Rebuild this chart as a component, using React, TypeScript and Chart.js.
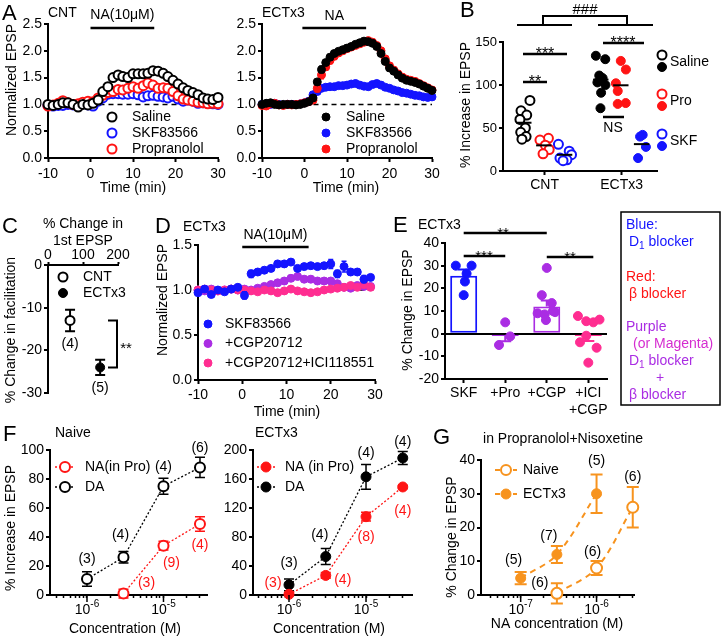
import React, { useEffect, useRef } from 'react';
import { Chart, registerables } from 'chart.js';

const FONT = '"Liberation Sans", Arial, Helvetica, sans-serif';
const W = 723;
const H = 639;

const BLACK = '#000000';
const RED = '#ff1414';
const BLUE = '#1414ff';
const PURPLE = '#aa2de3';
const PINK = '#ff2d91';
const ORANGE = '#f7931e';
const MAGENTA = '#d52cd0';

// ================= DATA =================
// Panel A
const A_LEGEND = ['Saline', 'SKF83566', 'Propranolol'];
const A_X_TICKS = [-10, 0, 10, 20, 30];
const A_Y_TICKS = [0, 0.5, 1, 1.5, 2, 2.5];
const A_CNT_TIME = [-10, -8.8, -7.6, -6.5, -5.3, -4.1, -2.9, -1.8, -0.6, 0.6, 1.8, 2.9, 4.1, 5.3, 6.5, 7.6, 8.8, 10, 11.2, 12.4, 13.5, 14.7, 15.9, 17.1, 18.2, 19.4, 20.6, 21.8, 22.9, 24.1, 25.3, 26.5, 27.6, 28.8, 30];
const A_CNT_SALINE = [1.00, 0.98, 1.00, 1.03, 1.03, 1.00, 0.95, 1.00, 0.99, 1.02, 1.08, 1.24, 1.33, 1.50, 1.55, 1.52, 1.50, 1.57, 1.57, 1.57, 1.58, 1.63, 1.62, 1.58, 1.52, 1.45, 1.38, 1.31, 1.26, 1.22, 1.18, 1.12, 1.10, 1.09, 1.13];
const A_CNT_SKF = [0.98, 0.97, 0.98, 0.98, 1.00, 0.99, 1.00, 1.02, 0.99, 0.97, 1.06, 1.12, 1.19, 1.20, 1.20, 1.19, 1.19, 1.20, 1.18, 1.14, 1.16, 1.17, 1.15, 1.14, 1.12, 1.15, 1.10, 1.06, 1.08, 1.06, 1.02, 1.03, 1.02, 1.01, 1.00];
const A_CNT_PRO = [0.97, 0.99, 1.02, 1.07, 1.03, 1.00, 1.01, 1.04, 1.06, 1.05, 1.12, 1.17, 1.22, 1.24, 1.28, 1.27, 1.30, 1.33, 1.30, 1.35, 1.40, 1.36, 1.30, 1.31, 1.30, 1.24, 1.16, 1.10, 1.08, 1.06, 1.04, 1.03, 1.01, 1.02, 1.01];
const A_ECT_TIME = [-10, -9, -8, -7, -6, -5, -4, -3, -2, -1, 0, 1, 2, 3, 4, 5, 6, 7, 8, 9, 10, 11, 12, 13, 14, 15, 16, 17, 18, 19, 20, 21, 22, 23, 24, 25, 26, 27, 28, 29, 30];
const A_ECT_SALINE = [1.00, 1.02, 1.03, 1.00, 0.99, 1.00, 1.00, 1.00, 0.99, 1.00, 1.02, 1.05, 1.12, 1.42, 1.65, 1.78, 1.88, 1.95, 1.99, 2.02, 2.05, 2.08, 2.12, 2.15, 2.18, 2.17, 2.14, 2.08, 1.95, 1.80, 1.68, 1.62, 1.55, 1.49, 1.45, 1.43, 1.41, 1.38, 1.34, 1.30, 1.26];
const A_ECT_SALINE_ERR = [0.02, 0.03, 0.02, 0.02, 0.02, 0.02, 0.02, 0.02, 0.02, 0.02, 0.02, 0.03, 0.04, 0.05, 0.06, 0.05, 0.05, 0.05, 0.05, 0.05, 0.05, 0.05, 0.05, 0.05, 0.05, 0.05, 0.05, 0.05, 0.05, 0.05, 0.05, 0.04, 0.04, 0.04, 0.04, 0.04, 0.04, 0.04, 0.04, 0.04, 0.05];
const A_ECT_SKF = [1.00, 1.01, 1.00, 1.02, 1.00, 0.99, 1.00, 1.00, 1.00, 1.01, 1.03, 1.06, 1.18, 1.24, 1.30, 1.32, 1.33, 1.33, 1.35, 1.35, 1.36, 1.38, 1.39, 1.36, 1.34, 1.33, 1.37, 1.39, 1.36, 1.32, 1.30, 1.27, 1.25, 1.22, 1.21, 1.19, 1.17, 1.16, 1.14, 1.13, 1.14];
const A_ECT_SKF_ERR = [0.02, 0.02, 0.02, 0.02, 0.02, 0.02, 0.02, 0.02, 0.02, 0.02, 0.02, 0.03, 0.04, 0.04, 0.04, 0.04, 0.04, 0.04, 0.04, 0.04, 0.04, 0.04, 0.04, 0.04, 0.04, 0.04, 0.05, 0.05, 0.04, 0.04, 0.04, 0.04, 0.04, 0.04, 0.04, 0.03, 0.03, 0.03, 0.03, 0.03, 0.03];
const A_ECT_PRO = [0.98, 0.97, 1.01, 1.02, 0.99, 0.98, 1.00, 0.99, 1.00, 1.01, 1.03, 1.05, 1.08, 1.30, 1.55, 1.70, 1.82, 1.90, 1.96, 2.00, 2.04, 2.07, 2.10, 2.13, 2.16, 2.19, 2.16, 2.10, 2.00, 1.85, 1.72, 1.64, 1.57, 1.51, 1.47, 1.45, 1.43, 1.39, 1.35, 1.31, 1.27];
const A_ECT_PRO_ERR = [0.03, 0.03, 0.03, 0.03, 0.03, 0.03, 0.03, 0.03, 0.03, 0.03, 0.03, 0.04, 0.05, 0.07, 0.07, 0.06, 0.06, 0.06, 0.05, 0.05, 0.05, 0.05, 0.05, 0.05, 0.05, 0.05, 0.05, 0.05, 0.05, 0.05, 0.05, 0.05, 0.05, 0.05, 0.04, 0.04, 0.04, 0.04, 0.04, 0.04, 0.05];

// Panel B
const B_GROUPS = ['CNT', 'ECTx3'];
const B_CONDITIONS = ['Saline', 'Pro', 'SKF'];
const B_Y_TICKS = [0, 50, 100, 150];
const B_CNT_SALINE = [82, 70, 65, 60, 50, 45, 40, 37];
const B_CNT_PRO = [38, 36, 30, 25, 20];
const B_CNT_SKF = [31, 23, 19, 15, 13, 12];
const B_ECT_SALINE = [134, 130, 111, 108, 103, 100, 91, 73];
const B_ECT_PRO = [128, 118, 102, 93, 79, 78];
const B_ECT_SKF = [42, 40, 28, 15];

// Panel C
const C_GROUPS = ['CNT', 'ECTx3'];
const C_FIRST_EPSP = [63, 149];
const C_FACILITATION = [-13, -24];
const C_FACILITATION_ERR = [2.5, 1.8];
const C_N = [4, 5];

// Panel D
const D_LEGEND = ['SKF83566', '+CGP20712', '+CGP20712+ICI118551'];
const D_Y_TICKS = [0, 0.5, 1, 1.5];
const D_TIME = [-10, -8.5, -7, -5.5, -4, -2.5, -1, 0.5, 2, 3.5, 5, 6.5, 8, 9.5, 11, 12.5, 14, 15.5, 17, 18.5, 20, 21.5, 23, 24.5, 26, 27.5, 29];
const D_SKF = [0.97, 1.01, 0.95, 1.00, 0.98, 1.01, 1.03, 0.94, 1.18, 1.20, 1.22, 1.24, 1.29, 1.29, 1.31, 1.24, 1.26, 1.27, 1.26, 1.27, 1.29, 1.18, 1.26, 1.20, 1.20, 1.12, 1.14];
const D_SKF_ERR = [0.02, 0.02, 0.03, 0.02, 0.02, 0.02, 0.02, 0.04, 0.04, 0.03, 0.03, 0.03, 0.03, 0.03, 0.02, 0.03, 0.03, 0.03, 0.03, 0.03, 0.05, 0.04, 0.06, 0.03, 0.03, 0.04, 0.03];
const D_CGP = [1.00, 0.99, 1.01, 0.99, 1.00, 1.01, 1.00, 1.01, 1.00, 1.02, 1.04, 1.06, 1.08, 1.10, 1.13, 1.15, 1.12, 1.12, 1.10, 1.10, 1.10, 1.07, 1.03, 1.02, 1.05, 1.04, 1.04];
const D_CGP_ERR = [0.02, 0.02, 0.02, 0.02, 0.02, 0.02, 0.02, 0.02, 0.02, 0.02, 0.02, 0.03, 0.03, 0.03, 0.03, 0.03, 0.03, 0.03, 0.03, 0.03, 0.03, 0.03, 0.02, 0.02, 0.02, 0.02, 0.02];
const D_ICI = [1.00, 1.01, 1.00, 0.99, 1.00, 1.01, 1.00, 1.00, 0.99, 0.98, 1.00, 0.99, 0.97, 0.99, 1.01, 0.99, 0.98, 0.97, 0.98, 1.00, 1.01, 1.02, 1.03, 1.05, 1.03, 1.06, 1.03];
const D_ICI_ERR = [0.02, 0.02, 0.02, 0.02, 0.02, 0.02, 0.02, 0.02, 0.02, 0.02, 0.02, 0.02, 0.02, 0.02, 0.02, 0.02, 0.02, 0.02, 0.02, 0.02, 0.02, 0.02, 0.02, 0.02, 0.02, 0.02, 0.02];

// Panel E
const E_LABELS: any[] = ['SKF', '+Pro', '+CGP', ['+ICI', '+CGP']];
const E_Y_TICKS = [-20, -10, 0, 10, 20, 30, 40];
const E_MEAN = [25.5, -1, 12, -1];
const E_SEM = [2.8, 2.4, 2.6, 2.2];
const E_SKF = [30, 30, 26.5, 23, 17];
const E_PRO = [5, -1.2, -5];
const E_CGP = [29, 17, 13.5, 9, 8.5, 9.5, 6, 10];
const E_ICI = [7.8, 5.5, 5, 6.2, -0.9, -3.8, -6.2, -12.8];

// Panel F
const F_CONC = [1e-6, 3e-6, 1e-5, 3e-5];
const F_NAIVE_NA_CONC = [3e-6, 1e-5, 3e-5];
const F_NAIVE_DA = [11, 26, 75, 88];
const F_NAIVE_DA_ERR = [5, 4, 5.5, 7];
const F_NAIVE_DA_N = [3, 4, 4, 6];
const F_NAIVE_NA = [1, 34, 49];
const F_NAIVE_NA_ERR = [3, 3, 5];
const F_NAIVE_NA_N = [3, 9, 4];
const F_ECT_DA = [14, 53, 163, 189];
const F_ECT_DA_ERR = [8, 11, 17, 9];
const F_ECT_DA_N = [3, 4, 4, 4];
const F_ECT_NA = [1, 27, 108, 149];
const F_ECT_NA_ERR = [2, 4, 6, 2];
const F_ECT_NA_N = [3, 4, 8, 4];

// Panel G
const G_ECT_CONC = [1e-7, 3e-7, 1e-6];
const G_ECT = [5, 12, 30];
const G_ECT_ERR = [1.8, 2.5, 5.7];
const G_ECT_N = [5, 7, 5];
const G_NAIVE_CONC = [3e-7, 1e-6, 3e-6];
const G_NAIVE = [0.5, 8, 26];
const G_NAIVE_ERR = [3, 2.1, 6];
const G_NAIVE_N = [6, 6, 6];

// ================= LAYOUT (not data) =================
const B_GROUP_X = [2.7, 7.7];
const B_COND_DX = [-1.35, -0.05, 1.3];
const B_JIT_CNT_SALINE = [0.4, -0.18, 0.19, -0.25, 0.1, -0.2, 0.15, -0.12];
const B_JIT_CNT_PRO = [0.3, -0.25, 0.1, 0.35, -0.05];
const B_JIT_CNT_SKF = [-0.4, 0.3, 0.45, -0.3, 0.15, -0.1];
const B_JIT_ECT_SALINE = [-0.32, 0.29, -0.1, 0.12, -0.22, 0.3, 0.02, -0.02];
const B_JIT_ECT_PRO = [0.0, 0.33, -0.32, -0.2, 0.32, -0.2];
const B_JIT_ECT_SKF = [0.07, -0.1, 0.28, -0.23];
const E_JIT_SKF = [-0.19, 0.19, 0.07, 0.03, 0.0];
const E_JIT_PRO = [0.0, 0.12, -0.15];
const E_JIT_CGP = [0.0, -0.12, 0.12, -0.22, -0.05, 0.2, -0.02, 0.15];
const E_JIT_ICI = [-0.25, -0.05, 0.12, 0.27, -0.05, -0.2, 0.2, 0.0];
const F1_DA_OFF = [[0, -20], [-3, -22], [0, -19], [0, -19]];
const F1_NA_OFF = [[23, -10], [8, 17], [0, 21]];
const F2_DA_OFF = [[0, -22], [-6, -21], [0, -24], [0, -16]];
const F2_NA_OFF = [[-16, -11], [17, 5], [0, 20], [0, 24]];
const G_ECT_OFF = [[-7, -18], [-8, -18], [0, -33]];
const G_NAIVE_OFF = [[-17, -10], [-4, -16], [0, -30]];

// ================= HELPERS =================
const errorBars = {
  id: 'errorBars',
  beforeDatasetDraw(chart: any, args: any) {
    const ds = chart.data.datasets[args.index];
    if (!ds || !ds.errors) return;
    const meta = args.meta;
    const ys = chart.scales[meta.yAxisID];
    const ctx = chart.ctx;
    ctx.save();
    ctx.setLineDash([]);
    meta.data.forEach((el: any, i: number) => {
      const e = ds.errors[i];
      if (!e) return;
      const raw = ds.data[i];
      const v = typeof raw === 'number' ? raw : raw.y;
      const col = Array.isArray(ds.borderColor) ? ds.borderColor[i] : ds.borderColor || BLACK;
      const cw = ds.capWidth ?? 4;
      let yTop = ys.getPixelForValue(v + e);
      let yBot = ys.getPixelForValue(v - e);
      let capTop = true;
      let capBot = true;
      if (ds.errorAway) {
        if (v >= 0) { yBot = ys.getPixelForValue(v); capBot = false; } else { yTop = ys.getPixelForValue(v); capTop = false; }
      }
      ctx.strokeStyle = col;
      ctx.lineWidth = ds.errorWidth ?? 1.5;
      ctx.beginPath();
      ctx.moveTo(el.x, yTop); ctx.lineTo(el.x, yBot);
      if (capTop) { ctx.moveTo(el.x - cw, yTop); ctx.lineTo(el.x + cw, yTop); }
      if (capBot) { ctx.moveTo(el.x - cw, yBot); ctx.lineTo(el.x + cw, yBot); }
      ctx.stroke();
    });
    ctx.restore();
  },
};

Chart.register(...registerables, errorBars);
Chart.defaults.font.family = FONT;
Chart.defaults.font.size = 14;
Chart.defaults.color = BLACK;

function txt(ctx: any, s: string, x: number, y: number, size = 14, color = BLACK, align = 'center', rot = 0) {
  ctx.save();
  ctx.font = `${size}px ${FONT}`;
  ctx.fillStyle = color;
  ctx.textAlign = align;
  ctx.textBaseline = 'middle';
  ctx.translate(x, y);
  if (rot) ctx.rotate(rot);
  ctx.fillText(s, 0, 0);
  ctx.restore();
}
function stars(ctx: any, s: string, x: number, lineY: number, size = 15) {
  ctx.save();
  ctx.font = `${size}px ${FONT}`;
  ctx.fillStyle = BLACK;
  ctx.textAlign = 'center';
  ctx.textBaseline = 'alphabetic';
  ctx.fillText(s, x, lineY + 5);
  ctx.restore();
}
function rich(ctx: any, parts: any[], x: number, y: number, size = 14, color = BLACK, align = 'left') {
  ctx.save();
  ctx.fillStyle = color;
  ctx.textBaseline = 'middle';
  ctx.textAlign = 'left';
  let total = 0;
  const ws = parts.map((p) => { ctx.font = `${p.s ?? size}px ${FONT}`; const w = ctx.measureText(p.t).width; total += w; return w; });
  let cx = align === 'center' ? x - total / 2 : align === 'right' ? x - total : x;
  parts.forEach((p, i) => { ctx.font = `${p.s ?? size}px ${FONT}`; ctx.fillText(p.t, cx, y + (p.dy ?? 0)); cx += ws[i]; });
  ctx.restore();
}
function poly(ctx: any, p: number[][], color = BLACK, lw = 2, dash: number[] = []) {
  ctx.save();
  ctx.strokeStyle = color;
  ctx.lineWidth = lw;
  ctx.setLineDash(dash);
  ctx.beginPath();
  p.forEach((q, i) => (i ? ctx.lineTo(q[0], q[1]) : ctx.moveTo(q[0], q[1])));
  ctx.stroke();
  ctx.restore();
}
function mk(ctx: any, x: number, y: number, r: number, color: string, filled: boolean, lw = 2) {
  ctx.save();
  ctx.setLineDash([]);
  ctx.beginPath();
  ctx.arc(x, y, r, 0, Math.PI * 2);
  ctx.fillStyle = filled ? color : '#ffffff';
  ctx.fill();
  ctx.strokeStyle = color;
  ctx.lineWidth = filled ? 1 : lw;
  ctx.stroke();
  ctx.restore();
}
function nlabels(chart: any, dsIndex: number, ns: number[], offs: number[][], color: string) {
  const meta = chart.getDatasetMeta(dsIndex);
  meta.data.forEach((el: any, i: number) => {
    txt(chart.ctx, `(${ns[i]})`, el.x + offs[i][0], el.y + offs[i][1], 14, color);
  });
}
function logLabels(chart: any) {
  const s = chart.scales.x;
  const ctx = chart.ctx;
  s.ticks.forEach((t: any) => {
    const lg = Math.log10(t.value);
    const e = Math.round(lg);
    if (Math.abs(lg - e) > 1e-6) return;
    const x = s.getPixelForValue(t.value);
    poly(ctx, [[x, s.top], [x, s.top + 7]], BLACK, 1.5);
    rich(ctx, [{ t: '10' }, { t: String(e), s: 10, dy: -6 }], x, s.top + 15, 14, BLACK, 'center');
  });
}

const pts = (xs: number[], ys: number[]) => xs.map((x, i) => ({ x, y: ys[i] }));
const mean = (a: number[]) => a.reduce((s, v) => s + v, 0) / a.length;
const fmt1 = (v: number) => v.toFixed(1);
const fmtI = (v: number) => String(v);

function zero(s: any) { s.paddingLeft = 0; s.paddingRight = 0; s.paddingTop = 0; s.paddingBottom = 0; }
function pad(L: number, T: number, R: number, B: number, yW: number, xH: number, xTop = false) {
  return xTop
    ? { left: L - yW, top: T - xH, right: W - R, bottom: H - B }
    : { left: L - yW, top: T, right: W - R, bottom: H - B - xH };
}
function linY(min: number, max: number, ticks: number[], w: number, fmt: any, o: any = {}) {
  return {
    type: 'linear', position: 'left', min, max,
    afterBuildTicks: (s: any) => { s.ticks = ticks.map((v) => ({ value: v })); },
    afterFit: (s: any) => { s.width = w; zero(s); },
    ticks: { color: BLACK, font: { family: FONT, size: o.size ?? 14 }, padding: o.pad ?? 2, autoSkip: false, callback: (v: number) => fmt(v) },
    grid: { display: true, drawOnChartArea: !!o.gridColor, color: o.gridColor ?? BLACK, lineWidth: 2, tickLength: o.tl ?? 4, tickWidth: 2, tickColor: BLACK },
    border: { display: true, color: BLACK, width: 2 },
  };
}
function linX(min: number, max: number, ticks: number[], h: number, fmt: any, o: any = {}) {
  return {
    type: 'linear', position: o.position ?? 'bottom', min, max, offset: false,
    afterBuildTicks: (s: any) => { s.ticks = ticks.map((v) => ({ value: v })); },
    afterFit: (s: any) => { s.height = h; zero(s); },
    ticks: { color: BLACK, font: { family: FONT, size: o.size ?? 14 }, padding: o.pad ?? 3, autoSkip: false, maxRotation: 0, minRotation: 0, callback: (v: number) => fmt(v) },
    grid: { display: true, offset: false, drawOnChartArea: false, color: BLACK, tickLength: o.tl ?? 4, tickWidth: 2, tickColor: BLACK },
    border: { display: true, color: BLACK, width: 2 },
  };
}
function logX(min: number, max: number, h: number) {
  return {
    type: 'logarithmic', position: 'bottom', min, max,
    afterBuildTicks: (s: any) => {
      const t: any[] = [];
      for (let e = -9; e <= -3; e++) for (let m = 1; m <= 9; m++) {
        const v = m * Math.pow(10, e);
        if (v >= min * 0.999 && v <= max * 1.001) t.push({ value: v, major: m === 1 });
      }
      s.ticks = t;
    },
    afterFit: (s: any) => { s.height = h; zero(s); },
    ticks: { display: false },
    grid: { display: true, drawOnChartArea: false, color: BLACK, tickLength: 3, tickWidth: 1.5, tickColor: BLACK },
    border: { display: true, color: BLACK, width: 2 },
  };
}
function opts(padding: any, scales: any) {
  return {
    responsive: false, maintainAspectRatio: false, animation: false, events: [],
    layout: { padding, autoPadding: false },
    plugins: { legend: { display: false }, tooltip: { enabled: false }, title: { display: false } },
    scales,
  };
}
function sc(data: any[], color: string, filled: boolean, r: number, extra: any = {}) {
  return {
    type: 'scatter', data, showLine: false, pointRadius: r, pointHoverRadius: r,
    pointBorderWidth: filled ? 1 : 2, pointBorderColor: color, pointBackgroundColor: filled ? color : '#ffffff',
    borderColor: color, backgroundColor: filled ? color : '#ffffff', clip: false, ...extra,
  };
}
function ln(data: any[], color: string, filled: boolean, r: number, dash: number[], errors: number[], extra: any = {}) {
  return {
    type: 'scatter', data, showLine: true, borderColor: color, borderWidth: 1.3, borderDash: dash,
    pointRadius: r, pointHoverRadius: r, pointBorderWidth: filled ? 1 : 2, pointBorderColor: color,
    pointBackgroundColor: filled ? color : '#ffffff', backgroundColor: filled ? color : '#ffffff',
    errors, capWidth: 5, clip: false, ...extra,
  };
}
function refLine(x0: number, x1: number) {
  return { type: 'scatter', data: [{ x: x0, y: 1 }, { x: x1, y: 1 }], showLine: true, borderColor: BLACK, borderWidth: 1.5, borderDash: [5, 4], pointRadius: 0, clip: false };
}

// ================= PANELS =================
function makeA1() {
  return {
    type: 'scatter',
    data: { datasets: [
      sc(pts(A_CNT_TIME, A_CNT_SALINE), BLACK, false, 4.5),
      sc(pts(A_CNT_TIME, A_CNT_PRO), RED, false, 4.5),
      sc(pts(A_CNT_TIME, A_CNT_SKF), BLUE, false, 4.5),
      refLine(0, 30),
    ] },
    options: opts(pad(48, 24, 218, 158, 34, 26), {
      x: linX(-10, 30, A_X_TICKS, 26, fmtI, { pad: 4 }),
      y: linY(0, 2.5, A_Y_TICKS, 34, fmt1),
    }),
    plugins: [{ id: 'annA1', afterDraw(chart: any) {
      const c = chart.ctx; const x = chart.scales.x;
      txt(c, 'A', 2, 14, 22, BLACK, 'left');
      txt(c, 'CNT', 48, 13, 14, BLACK, 'left');
      const x0 = x.getPixelForValue(0); const x1 = x.getPixelForValue(15);
      txt(c, 'NA(10μM)', (x0 + x1) / 2, 15);
      poly(c, [[x0, 28], [x1, 28]], BLACK, 2.5);
      [BLACK, BLUE, RED].forEach((col, i) => { mk(c, 112, 117 + 16 * i, 4.5, col, false); txt(c, A_LEGEND[i], 132, 117 + 16 * i, 14, BLACK, 'left'); });
      txt(c, 'Normalized EPSP', 12, 80, 14, BLACK, 'center', -Math.PI / 2);
      txt(c, 'Time (min)', 133, 188);
    } }],
  };
}

function makeA2() {
  return {
    type: 'scatter',
    data: { datasets: [
      sc(pts(A_ECT_TIME, A_ECT_SALINE), BLACK, true, 4, { errors: A_ECT_SALINE_ERR, capWidth: 2.5 }),
      sc(pts(A_ECT_TIME, A_ECT_PRO), RED, true, 4, { errors: A_ECT_PRO_ERR, capWidth: 2.5 }),
      sc(pts(A_ECT_TIME, A_ECT_SKF), BLUE, true, 4, { errors: A_ECT_SKF_ERR, capWidth: 2.5 }),
      refLine(0, 30),
    ] },
    options: opts(pad(262, 24, 432, 158, 34, 26), {
      x: linX(-10, 30, A_X_TICKS, 26, fmtI, { pad: 4 }),
      y: linY(0, 2.5, A_Y_TICKS, 34, fmt1),
    }),
    plugins: [{ id: 'annA2', afterDraw(chart: any) {
      const c = chart.ctx; const x = chart.scales.x;
      txt(c, 'ECTx3', 262, 13, 14, BLACK, 'left');
      const x0 = x.getPixelForValue(-0.5); const x1 = x.getPixelForValue(14.5);
      txt(c, 'NA', (x0 + x1) / 2, 16);
      poly(c, [[x0, 28], [x1, 28]], BLACK, 2.5);
      [BLACK, BLUE, RED].forEach((col, i) => { mk(c, 326, 117 + 16 * i, 4, col, true); txt(c, A_LEGEND[i], 346, 117 + 16 * i, 14, BLACK, 'left'); });
      txt(c, 'Time (min)', 346, 188);
    } }],
  };
}

function makeB() {
  const sets: any[] = [
    [B_CNT_SALINE, B_JIT_CNT_SALINE, 0, 0], [B_CNT_PRO, B_JIT_CNT_PRO, 0, 1], [B_CNT_SKF, B_JIT_CNT_SKF, 0, 2],
    [B_ECT_SALINE, B_JIT_ECT_SALINE, 1, 0], [B_ECT_PRO, B_JIT_ECT_PRO, 1, 1], [B_ECT_SKF, B_JIT_ECT_SKF, 1, 2],
  ];
  const colors = [BLACK, RED, BLUE];
  const datasets = sets.map(([vals, jit, g, k]) =>
    sc(vals.map((v: number, i: number) => ({ x: B_GROUP_X[g] + B_COND_DX[k] + jit[i], y: v })), colors[k], g === 1, 4.5));
  return {
    type: 'scatter',
    data: { datasets },
    options: opts(pad(503, 42, 657, 171, 33, 24), {
      x: linX(0, 10, B_GROUP_X, 24, (v: number) => B_GROUPS[B_GROUP_X.indexOf(v)], { pad: 2 }),
      y: linY(0, 150, B_Y_TICKS, 33, fmtI, { size: 13 }),
    }),
    plugins: [{ id: 'annB', afterDraw(chart: any) {
      const c = chart.ctx; const x = chart.scales.x; const y = chart.scales.y;
      txt(c, 'B', 460, 11, 22, BLACK, 'left');
      txt(c, '% Increase in EPSP', 466, 105, 14, BLACK, 'center', -Math.PI / 2);
      sets.forEach(([vals, , g, k]) => {
        const cx = B_GROUP_X[g] + B_COND_DX[k];
        const my = y.getPixelForValue(mean(vals));
        poly(c, [[x.getPixelForValue(cx - 0.5), my], [x.getPixelForValue(cx + 0.5), my]], BLACK, 2);
      });
      txt(c, '###', 585, 10, 15);
      poly(c, [[543, 25], [543, 16], [627, 16], [627, 25]], BLACK, 2);
      poly(c, [[517, 25], [572, 25]], BLACK, 2);
      poly(c, [[598, 25], [653, 25]], BLACK, 2);
      poly(c, [[523, 54], [567, 54]], BLACK, 2.5); stars(c, '***', 545, 54, 16);
      poly(c, [[523, 82], [547, 82]], BLACK, 2.5); stars(c, '**', 535, 82, 16);
      poly(c, [[603, 43], [644, 43]], BLACK, 2.5); stars(c, '****', 623, 43, 16);
      poly(c, [[603, 117], [624, 117]], BLACK, 2.5); txt(c, 'NS', 613, 128);
      const rows = [55, 94, 134];
      B_CONDITIONS.forEach((lab, k) => {
        mk(c, 662, rows[k], 4.5, colors[k], false);
        mk(c, 662, rows[k] + 12, 4.5, colors[k], true);
        txt(c, lab, 670, rows[k] + 7, 14, BLACK, 'left');
      });
    } }],
  };
}

function makeC() {
  return {
    type: 'scatter',
    data: { datasets: [
      sc([{ x: C_FIRST_EPSP[0], y: C_FACILITATION[0] }], BLACK, false, 4.5, { errors: [C_FACILITATION_ERR[0]], capWidth: 5, errorWidth: 2 }),
      sc([{ x: C_FIRST_EPSP[1], y: C_FACILITATION[1] }], BLACK, true, 4.5, { errors: [C_FACILITATION_ERR[1]], capWidth: 5, errorWidth: 2 }),
    ] },
    options: opts(pad(48, 265, 118, 393, 33, 16, true), {
      x: linX(0, 200, [0, 100, 200], 16, fmtI, { position: 'top', tl: 3, pad: -2 }),
      y: linY(-30, 0, [-30, -20, -10, 0], 33, fmtI),
    }),
    plugins: [{ id: 'annC', afterDraw(chart: any) {
      const c = chart.ctx; const y = chart.scales.y;
      txt(c, 'C', 2, 227, 22, BLACK, 'left');
      txt(c, '% Change in', 83, 224);
      txt(c, '1st EPSP', 83, 241);
      mk(c, 63, 277, 4.5, BLACK, false); txt(c, C_GROUPS[0], 83, 277, 14, BLACK, 'left');
      mk(c, 63, 293, 4.5, BLACK, true); txt(c, C_GROUPS[1], 83, 293, 14, BLACK, 'left');
      nlabels(chart, 0, [C_N[0]], [[0, 24]], BLACK);
      nlabels(chart, 1, [C_N[1]], [[0, 21]], BLACK);
      const y1 = y.getPixelForValue(C_FACILITATION[0]); const y2 = y.getPixelForValue(C_FACILITATION[1]);
      poly(c, [[108, y1], [117, y1], [117, y2], [108, y2]], BLACK, 2);
      stars(c, '**', 126, (y1 + y2) / 2 + 4, 15);
      txt(c, '% Change in facilitation', 11, 330, 14, BLACK, 'center', -Math.PI / 2);
    } }],
  };
}

function makeD() {
  return {
    type: 'scatter',
    data: { datasets: [
      sc(pts(D_TIME, D_SKF), BLUE, true, 4, { errors: D_SKF_ERR, capWidth: 2.5 }),
      sc(pts(D_TIME, D_ICI), PINK, true, 4, { errors: D_ICI_ERR, capWidth: 2.5 }),
      sc(pts(D_TIME, D_CGP), PURPLE, true, 4, { errors: D_CGP_ERR, capWidth: 2.5 }),
      refLine(0, 30),
    ] },
    options: opts(pad(198, 245, 375, 380, 34, 23), {
      x: linX(-10, 30, A_X_TICKS, 23, fmtI, { pad: 3 }),
      y: linY(0, 1.5, D_Y_TICKS, 34, fmt1),
    }),
    plugins: [{ id: 'annD', afterDraw(chart: any) {
      const c = chart.ctx; const x = chart.scales.x;
      txt(c, 'D', 155, 227, 22, BLACK, 'left');
      txt(c, 'ECTx3', 183, 227, 14, BLACK, 'left');
      const x0 = x.getPixelForValue(0); const x1 = x.getPixelForValue(15);
      txt(c, 'NA(10μM)', (x0 + x1) / 2, 235);
      poly(c, [[x0, 247], [x1, 247]], BLACK, 2.5);
      [BLUE, PURPLE, PINK].forEach((col, i) => { mk(c, 208, 324 + 19.5 * i, 4, col, true); txt(c, D_LEGEND[i], 225, 324 + 19.5 * i, 14, BLACK, 'left'); });
      txt(c, 'Normalized EPSP', 163, 300, 14, BLACK, 'center', -Math.PI / 2);
      txt(c, 'Time (min)', 287, 412);
    } }],
  };
}

function makeE() {
  const groups: any[] = [[E_SKF, E_JIT_SKF, BLUE], [E_PRO, E_JIT_PRO, PURPLE], [E_CGP, E_JIT_CGP, PURPLE], [E_ICI, E_JIT_ICI, PINK]];
  const dots = groups.map(([vals, jit, col], g) => sc(vals.map((v: number, i: number) => ({ x: g + jit[i], y: v })), col, true, 4.5));
  const barColors = [BLUE, PURPLE, PURPLE, PINK];
  return {
    type: 'bar',
    data: { datasets: [
      ...dots,
      { type: 'bar', data: E_MEAN.map((m, i) => ({ x: i, y: m })), backgroundColor: '#ffffff', borderColor: barColors, borderWidth: 2, borderSkipped: false, barPercentage: 0.65, categoryPercentage: 1, errors: E_SEM, errorAway: true, capWidth: 6, errorWidth: 2 },
    ] },
    options: opts(pad(445, 243, 607, 379, 34, 40), {
      x: linX(-0.45, 3.45, [0, 1, 2, 3], 40, (v: number) => E_LABELS[Math.round(v)], { pad: 2 }),
      y: linY(-20, 40, E_Y_TICKS, 34, fmtI, { gridColor: (ctx: any) => (ctx.tick && ctx.tick.value === 0 ? BLACK : 'rgba(0,0,0,0)') }),
    }),
    plugins: [{ id: 'annE', afterDraw(chart: any) {
      const c = chart.ctx; const x = chart.scales.x;
      const px = (v: number) => x.getPixelForValue(v);
      txt(c, 'E', 393, 226, 22, BLACK, 'left');
      txt(c, 'ECTx3', 418, 225, 14, BLACK, 'left');
      poly(c, [[px(0), 233], [px(2), 233]], BLACK, 2.5); stars(c, '**', 503, 233);
      poly(c, [[px(0), 256], [px(1), 256]], BLACK, 2.5); stars(c, '***', 484, 256);
      poly(c, [[px(2), 257], [px(3) + 5, 257]], BLACK, 2.5); stars(c, '**', 570, 257);
      txt(c, '% Change in EPSP', 408, 310, 14, BLACK, 'center', -Math.PI / 2);
      c.save(); c.strokeStyle = BLACK; c.lineWidth = 1.5; c.strokeRect(621, 212, 99, 193); c.restore();
      const d1 = (col: string, xx: number, yy: number) => rich(c, [{ t: 'D' }, { t: '1', s: 10, dy: 4 }, { t: ' blocker' }], xx, yy, 14, col, 'left');
      txt(c, 'Blue:', 626, 225, 14, BLUE, 'left');
      d1(BLUE, 629, 242);
      txt(c, 'Red:', 626, 277, 14, RED, 'left');
      txt(c, 'β blocker', 629, 294, 14, RED, 'left');
      txt(c, 'Purple', 626, 327, 14, PURPLE, 'left');
      txt(c, '(or Magenta)', 633, 344, 14, MAGENTA, 'left');
      d1(PURPLE, 629, 361);
      txt(c, '+', 660, 378, 14, PURPLE, 'center');
      txt(c, 'β blocker', 629, 395, 14, PURPLE, 'left');
    } }],
  };
}

function makeF1() {
  return {
    type: 'scatter',
    data: { datasets: [
      ln(pts(F_NAIVE_NA_CONC, F_NAIVE_NA), RED, false, 5, [2, 2], F_NAIVE_NA_ERR),
      ln(pts(F_CONC, F_NAIVE_DA), BLACK, false, 5, [2, 2], F_NAIVE_DA_ERR),
    ] },
    options: opts(pad(50, 450, 207, 595, 36, 22), {
      x: logX(Math.pow(10, -6.4837), Math.pow(10, -4.431), 22),
      y: linY(0, 100, [0, 20, 40, 60, 80, 100], 36, fmtI),
    }),
    plugins: [{ id: 'annF1', afterDraw(chart: any) {
      const c = chart.ctx;
      logLabels(chart);
      txt(c, 'F', 3, 435, 22, BLACK, 'left');
      txt(c, 'Naive', 55, 433, 14, BLACK, 'left');
      poly(c, [[55, 467], [75, 467]], RED, 1.3, [2, 2]); mk(c, 65, 467, 5, RED, false); txt(c, 'NA(in Pro)', 85, 467, 14, BLACK, 'left');
      poly(c, [[55, 487], [75, 487]], BLACK, 1.3, [2, 2]); mk(c, 65, 487, 5, BLACK, false); txt(c, 'DA', 85, 487, 14, BLACK, 'left');
      nlabels(chart, 1, F_NAIVE_DA_N, F1_DA_OFF, BLACK);
      nlabels(chart, 0, F_NAIVE_NA_N, F1_NA_OFF, RED);
      txt(c, 'Concentration (M)', 125, 629);
      txt(c, '% Increase in EPSP', 11, 528, 14, BLACK, 'center', -Math.PI / 2);
    } }],
  };
}

function makeF2() {
  return {
    type: 'scatter',
    data: { datasets: [
      ln(pts(F_CONC, F_ECT_NA), RED, true, 5, [2, 2], F_ECT_NA_ERR),
      ln(pts(F_CONC, F_ECT_DA), BLACK, true, 5, [2, 2], F_ECT_DA_ERR),
    ] },
    options: opts(pad(253, 450, 412, 595, 36, 22), {
      x: logX(Math.pow(10, -6.4675), Math.pow(10, -4.403), 22),
      y: linY(0, 200, [0, 40, 80, 120, 160, 200], 36, fmtI),
    }),
    plugins: [{ id: 'annF2', afterDraw(chart: any) {
      const c = chart.ctx;
      logLabels(chart);
      txt(c, 'ECTx3', 255, 433, 14, BLACK, 'left');
      poly(c, [[257, 467], [275, 467]], RED, 1.3, [2, 2]); mk(c, 266, 467, 5, RED, true); txt(c, 'NA (in Pro)', 285, 467, 14, BLACK, 'left');
      poly(c, [[257, 487], [275, 487]], BLACK, 1.3, [2, 2]); mk(c, 266, 487, 5, BLACK, true); txt(c, 'DA', 285, 487, 14, BLACK, 'left');
      nlabels(chart, 1, F_ECT_DA_N, F2_DA_OFF, BLACK);
      nlabels(chart, 0, F_ECT_NA_N, F2_NA_OFF, RED);
      txt(c, 'Concentration (M)', 329, 629);
    } }],
  };
}

function makeG() {
  return {
    type: 'scatter',
    data: { datasets: [
      ln(pts(G_ECT_CONC, G_ECT), ORANGE, true, 5, [6, 5], G_ECT_ERR, { borderWidth: 2, tension: 0.35, capWidth: 6, errorWidth: 2 }),
      ln(pts(G_NAIVE_CONC, G_NAIVE), ORANGE, false, 5.5, [6, 5], G_NAIVE_ERR, { borderWidth: 2, tension: 0.35, capWidth: 6, errorWidth: 2 }),
    ] },
    options: opts(pad(481, 460, 634, 595, 30, 22), {
      x: logX(Math.pow(10, -7.4935), Math.pow(10, -5.5065), 22),
      y: linY(0, 40, [0, 10, 20, 30, 40], 30, fmtI),
    }),
    plugins: [{ id: 'annG', afterDraw(chart: any) {
      const c = chart.ctx;
      logLabels(chart);
      txt(c, 'G', 433, 438, 22, BLACK, 'left');
      txt(c, 'in Propranolol+Nisoxetine', 563, 439);
      poly(c, [[495, 470], [517, 470]], ORANGE, 2, [5, 4]); mk(c, 506, 470, 5, ORANGE, false); txt(c, 'Naive', 523, 470, 14, BLACK, 'left');
      poly(c, [[495, 494], [517, 494]], ORANGE, 2, [5, 4]); mk(c, 506, 494, 5, ORANGE, true); txt(c, 'ECTx3', 523, 494, 14, BLACK, 'left');
      nlabels(chart, 0, G_ECT_N, G_ECT_OFF, BLACK);
      nlabels(chart, 1, G_NAIVE_N, G_NAIVE_OFF, BLACK);
      txt(c, 'NA concentration (M)', 557, 624);
      txt(c, '% Change in EPSP', 452, 537, 14, BLACK, 'center', -Math.PI / 2);
    } }],
  };
}

const FACTORIES = [makeA1, makeA2, makeB, makeC, makeD, makeE, makeF1, makeF2, makeG];

function ChartCanvas({ make }: { make: () => any }) {
  const ref = useRef<HTMLCanvasElement | null>(null);
  useEffect(() => {
    if (!ref.current) return undefined;
    const chart = new Chart(ref.current, make());
    return () => chart.destroy();
  }, [make]);
  return <canvas ref={ref} width={W} height={H} style={{ position: 'absolute', left: 0, top: 0, width: W, height: H }} />;
}

export default function App() {
  return (
    <div style={{ position: 'fixed', left: 0, top: 0, width: W, height: H, background: '#ffffff', overflow: 'hidden' }}>
      {FACTORIES.map((f, i) => <ChartCanvas key={i} make={f} />)}
    </div>
  );
}
